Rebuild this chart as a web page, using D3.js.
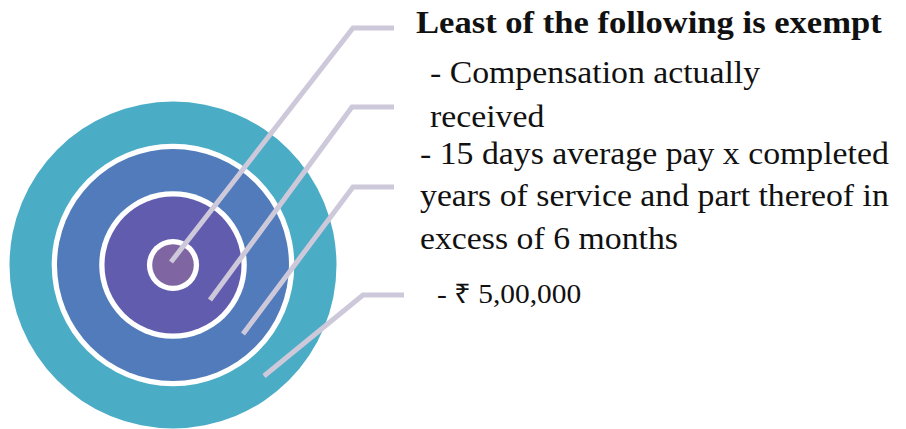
<!DOCTYPE html>
<html><head><meta charset="utf-8">
<script src="https://cdn.jsdelivr.net/npm/d3@7"></script>
<style>body{margin:0;background:#fff}svg{display:block}</style>
</head><body>
<svg id="c" width="906" height="429"></svg>
<script>
// ---- data ----
const rings = ["outer", "middle", "inner", "center"];
const ringColors = ["#4aacc5", "#517bba", "#615cae", "#7f65a1"];
const title = "Least of the following is exempt";
const itemLines = [
  ["- Compensation actually", "received"],
  ["- 15 days average pay x completed", "years of service and part thereof in", "excess of 6 months"],
  ["- \u20B9 5,00,000"]
];

// ---- layout ----
const svg = d3.select("#c");
const cx = 173, cy = 265;
const rScale = d3.scaleOrdinal().domain(rings).range([163.5, 116, 68.5, 20.8]);
const borderW = 5.3;
const color = d3.scaleOrdinal().domain(rings).range(ringColors);

const g = svg.append("g");
rings.forEach((r, i) => {
  if (i > 0) {
    g.append("circle").attr("cx", cx).attr("cy", cy).attr("r", rScale(r) + borderW).attr("fill", "#fff");
  }
  g.append("circle").attr("cx", cx).attr("cy", cy).attr("r", rScale(r)).attr("fill", color(r));
});

// leader lines (from each ring to its label)
const leaders = [
  [[171, 262], [353, 28], [394, 28]],
  [[210, 300], [352, 107], [394, 107]],
  [[243, 334], [353, 187], [394, 187]],
  [[264, 376], [363, 295], [404, 295]]
];
const line = d3.line();
svg.selectAll("path.leader").data(leaders).join("path")
  .attr("class", "leader")
  .attr("d", line)
  .attr("fill", "none")
  .attr("stroke", "#cdc8da")
  .attr("stroke-width", 5);

const font = "'Liberation Serif', 'Times New Roman', serif";
function addText(t, x, y, size, sx, bold) {
  svg.append("text")
    .attr("transform", `translate(${x},${y}) scale(${sx},1)`)
    .attr("font-family", font)
    .attr("font-weight", bold ? "bold" : "normal")
    .attr("font-size", size)
    .attr("fill", "#111").text(t);
}
addText(title, 416, 33, 31, 1.116, true);

const blocks = [
  {x: 430, ys: [83, 126.5], size: 31},
  {x: 420, ys: [164, 206, 248.5], size: 31},
  {x: 437, ys: [302.5], size: 27}
];
itemLines.forEach((lines, i) => {
  const b = blocks[i];
  lines.forEach((t, j) => addText(t, b.x, b.ys[j], b.size, 1.09, false));
});
</script>
</body></html>
